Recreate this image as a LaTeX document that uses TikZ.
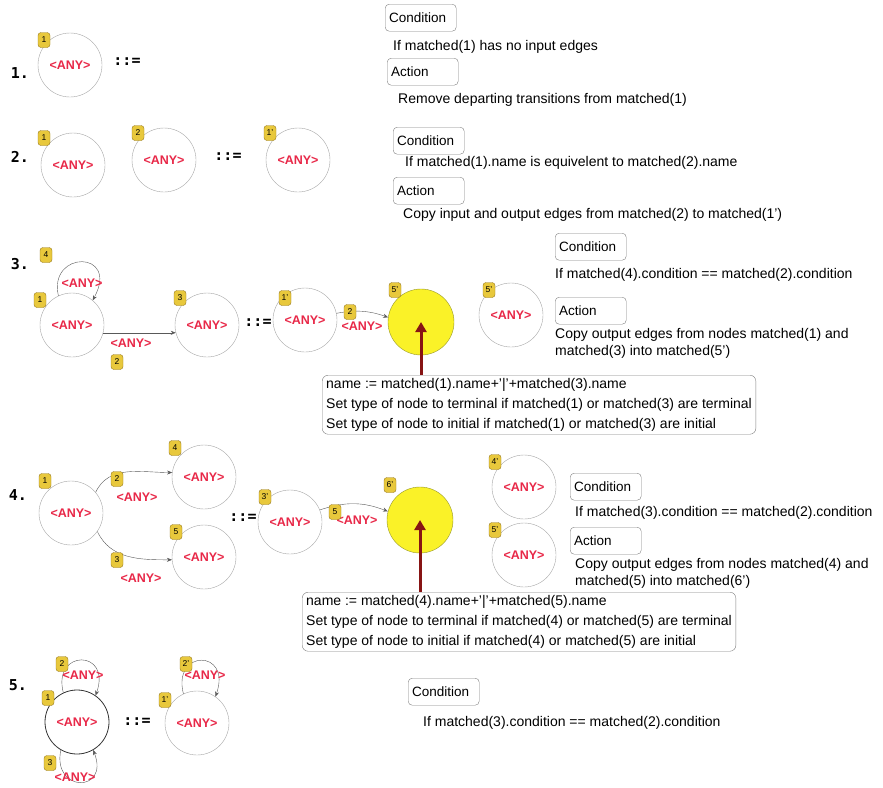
\documentclass[tikz,border=0pt]{standalone}
\usepackage{fontspec}
\setmainfont{Liberation Sans}
\newfontfamily\rulefont{DejaVu Sans Mono}
\usetikzlibrary{arrows.meta}

\definecolor{anyred}{RGB}{232,40,72}
\definecolor{badgefill}{RGB}{232,200,60}
\definecolor{badgeline}{RGB}{150,120,30}
\definecolor{mergefill}{RGB}{250,242,40}
\definecolor{mergeline}{RGB}{150,150,40}
\definecolor{pushred}{RGB}{135,20,20}

\begin{document}
\begin{tikzpicture}[
  x=1pt, y=-1pt,
  state/.style = {circle, draw=gray!70, minimum size=64pt, inner sep=0pt, text=anyred, font=\fontsize{12.5}{14}\selectfont\bfseries},
  merged/.style = {circle, draw=mergeline, fill=mergefill, minimum size=66pt, inner sep=0pt},
  badge/.style = {draw=badgeline, fill=badgefill, rounded corners=3pt, minimum width=12pt, minimum height=15pt, inner sep=0.5pt, font=\fontsize{8.5}{9}\selectfont},
  lbl/.style = {text=anyred, font=\fontsize{12.5}{14}\selectfont\bfseries, inner sep=1pt},
  rownum/.style = {font=\rulefont\bfseries\fontsize{15}{16}\selectfont, inner sep=0pt},
  derive/.style = {font=\rulefont\bfseries\fontsize{15}{16}\selectfont, inner sep=0pt},
  keybox/.style = {draw=gray, rounded corners=4pt, anchor=north west, align=left, text width=63pt, minimum height=27pt, inner xsep=4pt, font=\fontsize{13.5}{15}\selectfont},
  note/.style = {anchor=west, inner sep=0pt, font=\fontsize{14}{16}\selectfont},
  rulebox/.style = {draw=gray, rounded corners=6pt, anchor=north west, align=left, inner xsep=4pt, inner ysep=3pt, font=\fontsize{14}{20}\selectfont},
  edge/.style = {draw=gray!70!black, -{Stealth[length=5pt,width=4pt]}},
  push/.style = {draw=pushred, line width=3pt, -{Triangle[length=10pt,width=11pt]}}
]
\useasboundingbox (0,0) rectangle (883,787);

% rule 1
\node[rownum] (r1) at (20,73) {1.};
\node[state] (n11) at (70,65) {<ANY>};
\node[badge] (b11) at (44,40) {1};
\node[derive] (d1) at (127,62) {::=};
\node[keybox] (c1) at (385,4) {Condition};
\node[note] (t11) at (393,47) {If matched(1) has no input edges};
\node[keybox] (a1) at (387,58) {Action};
\node[note] (t12) at (398,100) {Remove departing transitions from matched(1)};

% rule 2
\node[rownum] (r2) at (20,157) {2.};
\node[state] (n21) at (73,165) {<ANY>};
\node[badge] (b21) at (44,138) {1};
\node[state] (n22) at (164,160) {<ANY>};
\node[badge] (b22) at (138,133) {2};
\node[derive] (d2) at (228,157) {::=};
\node[state] (n23) at (298,160) {<ANY>};
\node[badge] (b23) at (270,133) {1'};
\node[keybox] (c2) at (393,127) {Condition};
\node[note] (t21) at (405,163) {If matched(1).name is equivelent to matched(2).name};
\node[keybox] (a2) at (393,177) {Action};
\node[note] (t22) at (403,215) {Copy input and output edges from matched(2) to matched(1')};

% rule 3
\node[rownum] (r3) at (20,264) {3.};
\node[state] (n31) at (72,325) {<ANY>};
\node[badge] (b31) at (40,300) {1};
\draw[edge] (n31.115) .. controls (48,250) and (120,250) .. (n31.50);
\node[lbl] (l31) at (82,283) {<ANY>};
\node[badge] (b34) at (46,255) {4};
\node[state] (n33) at (207,325) {<ANY>};
\node[badge] (b33) at (180,298) {3};
\draw[edge] (n31.-14) -- (n33.194);
\node[lbl] (l32) at (131,343) {<ANY>};
\node[badge] (b32) at (117,362) {2};
\node[derive] (d3) at (258,323) {::=};
\node[state] (n34) at (305,320) {<ANY>};
\node[badge] (b35) at (285,298) {1'};
\node[merged] (n35) at (421,322) {};
\node[badge] (b36) at (395,290) {5'};
\draw[edge] (n34.12) to[bend left=15] (n35.172);
\node[lbl] (l33) at (362,326) {<ANY>};
\node[badge] (b37) at (350,312) {2};
\node[state] (n36) at (511,315) {<ANY>};
\node[badge] (b38) at (489,290) {5'};
\node[keybox] (c3) at (555,233) {Condition};
\node[note] (t31) at (555,275) {If matched(4).condition == matched(2).condition};
\node[keybox] (a3) at (555,297) {Action};
\node[note] (t32) at (555,335) {Copy output edges from nodes matched(1) and};
\node[note] (t33) at (555,352) {matched(3) into matched(5')};
\node[rulebox] (m3) at (322,375) {name := matched(1).name+'|'+matched(3).name\\
  Set type of node to terminal if matched(1) or matched(3) are terminal\\
  Set type of node to initial if matched(1) or matched(3) are initial};
\draw[push] (m3.north -| n35) -- (n35.center);

% rule 4
\node[rownum] (r4) at (18,495) {4.};
\node[state] (n41) at (71,513) {<ANY>};
\node[badge] (b41) at (45,481) {1};
\node[state] (n44) at (204,477) {<ANY>};
\node[badge] (b44) at (175,448) {4};
\node[state] (n45) at (204,557) {<ANY>};
\node[badge] (b45) at (176,532) {5};
\draw[edge] (n41.40) to[out=65,in=180] (n44.172);
\node[lbl] (l41) at (137,497) {<ANY>};
\node[badge] (b42) at (117,479) {2};
\draw[edge] (n41.-35) to[out=-65,in=180] (n45.185);
\node[lbl] (l42) at (141,578) {<ANY>};
\node[badge] (b43) at (117,560) {3};
\node[derive] (d4) at (243,518) {::=};
\node[state] (n43) at (290,522) {<ANY>};
\node[badge] (b46) at (265,497) {3'};
\node[merged] (n46) at (420,520) {};
\node[badge] (b47) at (390,485) {6'};
\draw[edge] (n43.22) to[bend left=20] (n46.165);
\node[lbl] (l43) at (357,520) {<ANY>};
\node[badge] (b48) at (335,512) {5};
\node[state] (n47) at (524,487) {<ANY>};
\node[badge] (b49) at (495,462) {4'};
\node[state] (n48) at (524,555) {<ANY>};
\node[badge] (b50) at (495,530) {5'};
\node[keybox] (c4) at (570,473) {Condition};
\node[note] (t41) at (575,513) {If matched(3).condition == matched(2).condition};
\node[keybox] (a4) at (570,527) {Action};
\node[note] (t42) at (575,565) {Copy output edges from nodes matched(4) and};
\node[note] (t43) at (575,582) {matched(5) into matched(6')};
\node[rulebox] (m4) at (302,592) {name := matched(4).name+'|'+matched(5).name\\
  Set type of node to terminal if matched(4) or matched(5) are terminal\\
  Set type of node to initial if matched(4) or matched(5) are initial};
\draw[push] (m4.north -| n46) -- (n46.center);

% rule 5
\node[rownum] (r5) at (18,685) {5.};
\node[state, draw=black!80, thick] (n51) at (77,722) {<ANY>};
\node[badge] (b51) at (48,698) {1};
\draw[edge] (n51.115) .. controls (52,649) and (112,649) .. (n51.55);
\node[lbl] (l51) at (83,675) {<ANY>};
\node[badge] (b52) at (62,664) {2};
\draw[edge] (n51.-120) .. controls (52,793) and (110,793) .. (n51.-60);
\node[lbl] (l52) at (75,777) {<ANY>};
\node[badge] (b53) at (50,763) {3};
\node[derive] (d5) at (137,722) {::=};
\node[state] (n52) at (197,723) {<ANY>};
\node[badge] (b54) at (165,700) {1'};
\draw[edge] (n52.115) .. controls (172,649) and (232,649) .. (n52.55);
\node[lbl] (l53) at (205,675) {<ANY>};
\node[badge] (b55) at (186,664) {2'};
\node[keybox] (c5) at (408,678) {Condition};
\node[note] (t5) at (423,723) {If matched(3).condition == matched(2).condition};
\end{tikzpicture}
\end{document}
